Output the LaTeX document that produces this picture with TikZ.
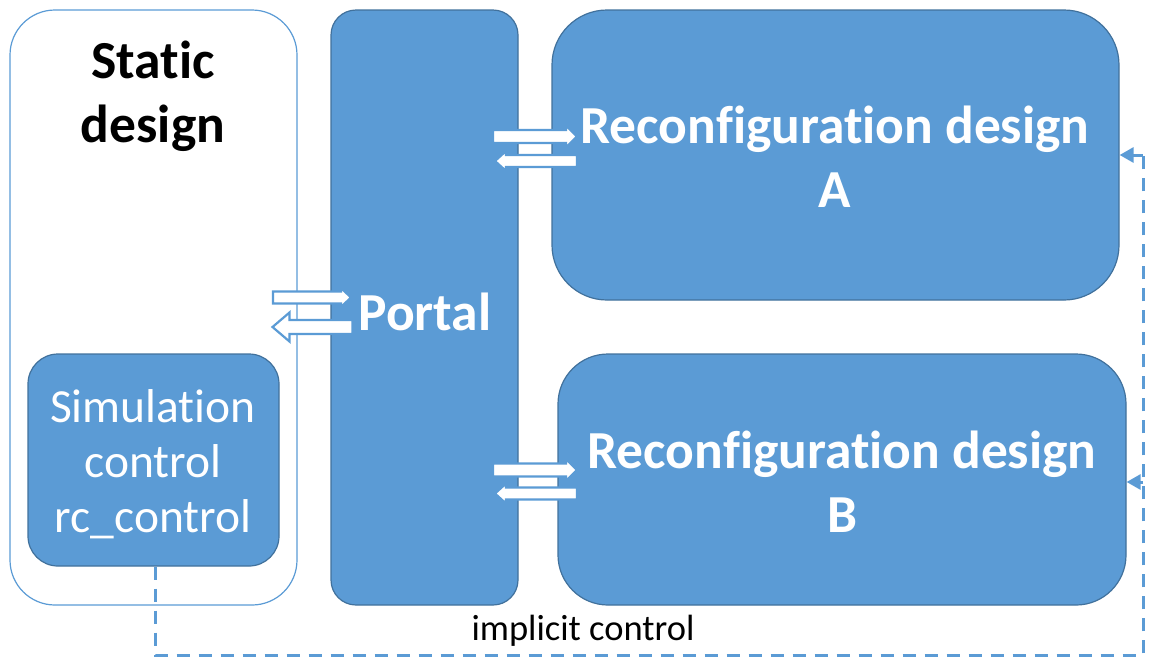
\documentclass[tikz,border=0pt]{standalone}
\usepackage{fontspec}
\setmainfont{Carlito}[Ligatures=NoCommon]
\usetikzlibrary{arrows.meta}
\definecolor{boxblue}{HTML}{5B9BD5}
\definecolor{boxedge}{HTML}{41719C}
\begin{document}
\begin{tikzpicture}[x=1pt,y=-1pt,
  filledbox/.style={fill=boxblue,draw=boxedge,line width=1.2pt,inner sep=0pt},
  outlinebox/.style={draw=boxblue,line width=1.2pt,inner sep=0pt},
  bigbold/.style={font=\bfseries\fontsize{53.5}{64}\selectfont,align=center,inner sep=0pt},
  dline/.style={boxblue,line width=3pt,dash pattern=on 13pt off 9pt},
  dtip/.style={-{Triangle[length=14pt,width=15pt]}},
  blockarrow/.style={draw=boxblue,fill=white,line width=2.2pt,line join=miter},
  % block arrows: {length}{shaft half-height}{head half-height}{head length}
  pics/rarr/.style n args={4}{code={\draw[blockarrow] (0,-#2) -- ({#1-#4},-#2) -- ({#1-#4},-#3) -- (#1,0) -- ({#1-#4},#3) -- ({#1-#4},#2) -- (0,#2) -- cycle;}},
  pics/larr/.style n args={4}{code={\draw[blockarrow] (0,-#2) -- ({-#1+#4},-#2) -- ({-#1+#4},-#3) -- (-#1,0) -- ({-#1+#4},#3) -- ({-#1+#4},#2) -- (0,#2) -- cycle;}}
]
\useasboundingbox (0,0) rectangle (1161,657);

% containers and blocks
\node[outlinebox,rounded corners=45pt,minimum width=287pt,minimum height=595pt] (static) at (153.5,307.5) {};
\node[filledbox,rounded corners=30pt,minimum width=251pt,minimum height=212pt] (sim) at (153.5,460) {};
\node[filledbox,rounded corners=25pt,minimum width=187pt,minimum height=595pt] (portal) at (424.5,307.5) {};
\node[filledbox,rounded corners=55pt,minimum width=567pt,minimum height=290pt] (recA) at (835.5,155) {};
\node[filledbox,rounded corners=50pt,minimum width=568pt,minimum height=251pt] (recB) at (842,479.5) {};

% labels
\node[bigbold,text=black] (statictxt) at (153,96) {Static\\design};
\node[bigbold,text=white] (portaltxt) at (425,312) {Portal};
\node[bigbold,text=white] (recAtxt) at (835,157) {Reconfiguration design\\A};
\node[bigbold,text=white] (recBtxt) at (842,482) {Reconfiguration design\\B};
\node[font=\fontsize{47.5}{55}\selectfont,align=center,text=white,inner sep=0pt] (simtxt) at (153,464) {Simulation\\control\\rc\_control};

% data exchange arrows
\pic at (273,297.5) {rarr={78}{6}{9.5}{10}};
\pic at (352.5,327) {larr={80}{7}{14.5}{17}};
\pic at (493,136.5) {rarr={84}{6.5}{11}{11}};
\pic at (577,161) {larr={82}{6}{10}{11}};
\pic at (493,470) {rarr={84}{6.5}{11}{11}};
\pic at (577,493.5) {larr={82}{6}{10}{11}};

% implicit control path
\coordinate (bl) at (155,655);
\coordinate (br) at (1143,655);
\coordinate (ta) at (1143,155);
\coordinate (tb) at (1143,482);
\draw[dline] (sim.south -| bl) -- (bl) -- (br) -- (ta);
\draw[dline,dtip] (ta) -- (recA.east |- ta);
\draw[dline,dtip] (tb) -- (recB.east |- tb);
\node[font=\fontsize{36.5}{40}\selectfont,inner sep=0pt] (ctrltxt) at (583,631) {implicit control};
\end{tikzpicture}
\end{document}
